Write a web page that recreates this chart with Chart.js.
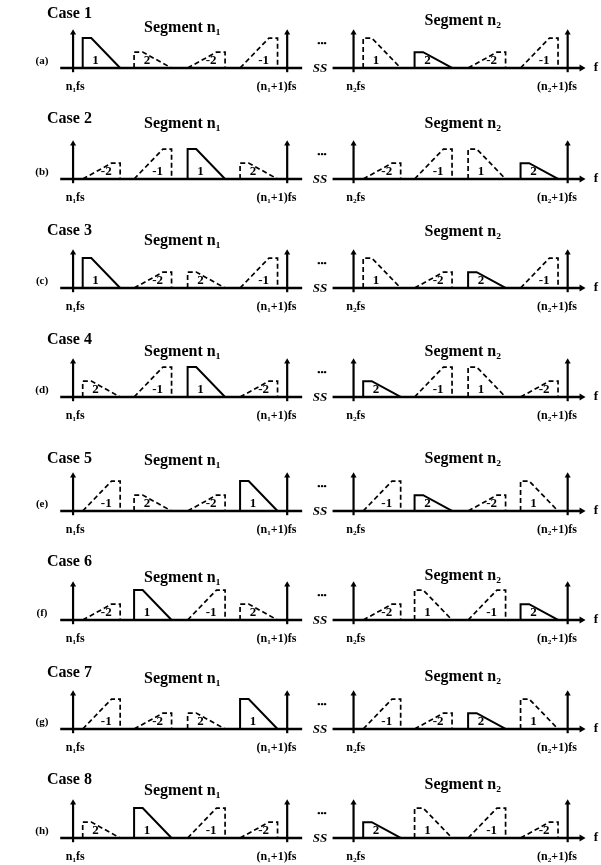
<!DOCTYPE html>
<html>
<head>
<meta charset="utf-8">
<script src="https://cdn.jsdelivr.net/npm/chart.js@4.4.1/dist/chart.umd.min.js"></script>
<style>
  html, body { margin: 0; padding: 0; background: #fff; }
  #page { position: relative; width: 601px; height: 865px; overflow: hidden; background: #fff; }
  .row { position: absolute; left: 0; width: 601px; height: 110px; }
</style>
</head>
<body>
<div id="page"></div>
<script>
// --- data ---
const caseNames = ['Case 1', 'Case 2', 'Case 3', 'Case 4', 'Case 5', 'Case 6', 'Case 7', 'Case 8'];
const rowTags = ['(a)', '(b)', '(c)', '(d)', '(e)', '(f)', '(g)', '(h)'];
// order of the spectral images inside each segment (same for n1 and n2)
const bandOrder = [
    [1, 2, -2, -1],
    [-2, -1, 1, 2],
    [1, -2, 2, -1],
    [2, -1, 1, -2],
    [-1, 2, -2, 1],
    [-2, 1, -1, 2],
    [-1, -2, 2, 1],
    [2, 1, -1, -2]
];
const slotStart = [0.045, 0.285, 0.535, 0.78];   // start of each image, in fs units
const bandWidth = 0.175;
const bandFlat = 0.04;
const bandLevel = { 1: 0.85, 2: 0.45 };          // relative amplitude of band 1 / band 2
const segmentNames = ['Segment n₁', 'Segment n₂'];
const solidBand = [1, 2];                        // band drawn solid in segment n1 / n2
const tickLabels = [['n₁fs', '(n₁+1)fs'], ['n₂fs', '(n₂+1)fs']];

// --- layout ---
const rowBase = [69, 180, 289, 398, 512, 621, 730, 839];
// how far above the baseline the titles sit: [case, segment n1, segment n2]
const titleLift = [
    [54, 40, 47],
    [60, 55, 55],
    [57, 47, 56],
    [57, 45, 45],
    [52, 50, 52],
    [58, 42, 44],
    [56, 50, 52],
    [58, 47, 53]
];
const BASE_PX = 69;          // baseline inside each row canvas
const ROW_H = 110;
const PX_X = 217;            // px per fs
const PX_Y = 38;             // px per unit amplitude
const X_MIN = -70 / PX_X;
const X_MAX = X_MIN + 601 / PX_X;
const Y_MAX = BASE_PX / PX_Y;
const Y_MIN = -(ROW_H - BASE_PX) / PX_Y;
const SEG_SHIFT = 1.31;
const SERIF = '"Liberation Serif", "Times New Roman", serif';

const bandPoints = (band, start) => {
    const h = bandLevel[Math.abs(band)];
    const end = start + bandWidth;
    if (band > 0) {
        return [{ x: start, y: 0 }, { x: start, y: h }, { x: start + bandFlat, y: h }, { x: end, y: 0 }];
    }
    return [{ x: start, y: 0 }, { x: end - bandFlat, y: h }, { x: end, y: h }, { x: end, y: 0 }];
};

const lineSet = (data, extra) => Object.assign({
    data: data,
    showLine: true,
    borderColor: '#000',
    borderWidth: 1.8,
    pointRadius: 0,
    fill: false,
    tension: 0
}, extra || {});

const buildDatasets = (row) => {
    const sets = [];
    // baselines
    sets.push(lineSet([{ x: -0.06, y: 0 }, { x: 1.07, y: 0 }], { borderWidth: 2.4 }));
    sets.push(lineSet([{ x: 1.212, y: 0 }, { x: 2.375, y: 0 }], {
        borderWidth: 2.4,
        pointRadius: [0, 4],
        pointStyle: 'triangle',
        pointRotation: 90,
        pointBackgroundColor: '#000',
        pointBorderWidth: 0
    }));
    [0, 1].forEach(seg => {
        const shift = seg * SEG_SHIFT;
        // sampling instants nfs and (n+1)fs
        [0, 1].forEach(k => {
            sets.push(lineSet([{ x: shift + k, y: -0.12 }, { x: shift + k, y: 1 }], {
                borderWidth: 2.2,
                pointRadius: [0, 3.5],
                pointStyle: 'triangle',
                pointBackgroundColor: '#000',
                pointBorderWidth: 0
            }));
        });
        bandOrder[row].forEach((band, slot) => {
            const pts = bandPoints(band, slotStart[slot]).map(p => ({ x: p.x + shift, y: p.y }));
            const solid = band === solidBand[seg];
            sets.push(lineSet(pts, solid ? { borderWidth: 2 } : { borderWidth: 1.7, borderDash: [5, 3] }));
        });
    });
    return sets;
};

const rowText = {
    id: 'rowText',
    afterDatasetsDraw(chart, args, opts) {
        const row = opts.row;
        const lift = titleLift[row];
        const { ctx, scales: { x, y } } = chart;
        const base = y.getPixelForValue(0);
        ctx.save();
        ctx.fillStyle = '#000';
        ctx.textBaseline = 'middle';

        ctx.textAlign = 'left';
        ctx.font = 'bold 16px ' + SERIF;
        ctx.fillText(caseNames[row], 47, base - lift[0]);

        ctx.textAlign = 'center';
        ctx.font = 'bold 11px ' + SERIF;
        ctx.fillText(rowTags[row], 42, base - 7);

        [0, 1].forEach(seg => {
            const shift = seg * SEG_SHIFT;
            ctx.font = 'bold 16px ' + SERIF;
            ctx.fillText(segmentNames[seg], x.getPixelForValue(shift + 0.51), base - lift[1 + seg]);

            ctx.font = 'bold 12px ' + SERIF;
            ctx.fillText(tickLabels[seg][0], x.getPixelForValue(shift + 0.01), base + 19);
            ctx.fillText(tickLabels[seg][1], x.getPixelForValue(shift + 0.95), base + 19);

            ctx.font = 'bold 13px ' + SERIF;
            bandOrder[row].forEach((band, slot) => {
                const s = slotStart[slot];
                const cx = band > 0 ? s + 0.06 : s + bandWidth - 0.065;
                ctx.fillText(String(band), x.getPixelForValue(shift + cx), y.getPixelForValue(0.22));
            });
        });

        // break in the axis and continuation dots
        ctx.font = 'bold italic 13px ' + SERIF;
        ctx.fillText('SS', 320, base + 1);
        ctx.font = 'bold 9px ' + SERIF;
        ctx.fillText('•••', 322, base - 24);
        ctx.font = 'bold 13px ' + SERIF;
        ctx.fillText('f', 596, base);
        ctx.restore();
    }
};

const page = document.getElementById('page');
rowBase.forEach((b, row) => {
    const div = document.createElement('div');
    div.className = 'row';
    div.style.top = (b - BASE_PX) + 'px';
    const canvas = document.createElement('canvas');
    canvas.width = 601;
    canvas.height = ROW_H;
    div.appendChild(canvas);
    page.appendChild(div);

    new Chart(canvas, {
        type: 'scatter',
        data: { datasets: buildDatasets(row) },
        options: {
            responsive: false,
            animation: false,
            events: [],
            layout: { padding: 0 },
            plugins: {
                legend: { display: false },
                tooltip: { enabled: false },
                rowText: { row: row }
            },
            scales: {
                x: { type: 'linear', display: false, min: X_MIN, max: X_MAX },
                y: { type: 'linear', display: false, min: Y_MIN, max: Y_MAX }
            }
        },
        plugins: [rowText]
    });
});
</script>
</body>
</html>
